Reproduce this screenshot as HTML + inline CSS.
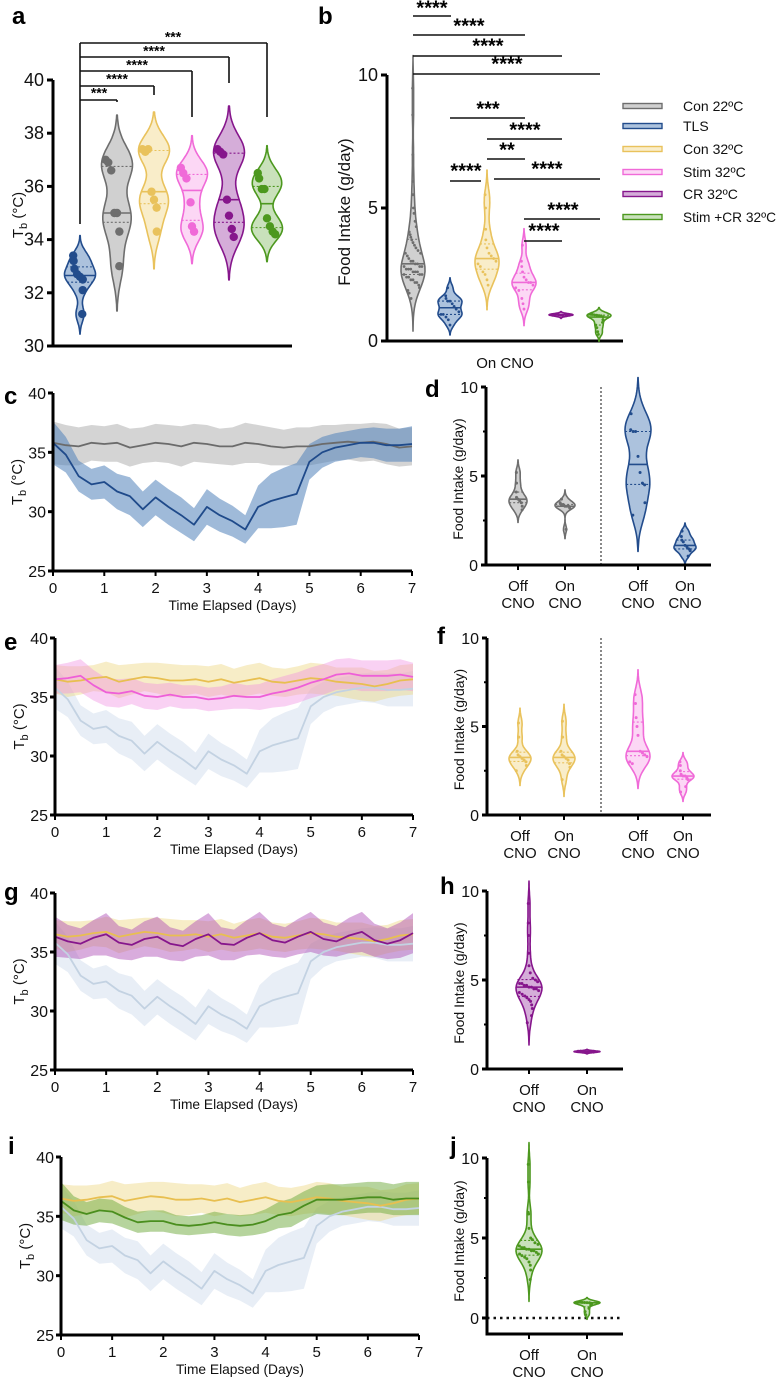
<!DOCTYPE html>
<html><head><meta charset="utf-8"><style>
html,body{margin:0;padding:0;background:#fff}
svg{display:block;font-family:"Liberation Sans",sans-serif}
</style></head><body>
<svg id="fig" width="777" height="1379" viewBox="0 0 777 1379" xmlns="http://www.w3.org/2000/svg"></svg>
<script>
// ---------- DATA ----------
const timeDays=[0,0.25,0.5,0.75,1,1.25,1.5,1.75,2,2.25,2.5,2.75,3,3.25,3.5,3.75,4,4.25,4.5,4.75,5,5.25,5.5,5.75,6,6.25,6.5,6.75,7];
const tlsMean=[35.8,34.8,33.0,32.3,32.5,31.7,31.3,30.2,31.2,30.4,29.7,28.9,30.4,29.7,29.2,28.5,30.4,30.9,31.2,31.5,34.2,35.0,35.4,35.6,35.8,35.8,35.6,35.6,35.7];
const tlsSd=[1.8,1.5,1.3,1.3,1.4,1.5,1.6,1.5,1.5,1.5,1.5,1.4,1.5,1.4,1.3,1.2,1.8,2.3,2.5,2.6,1.5,1.3,1.2,1.2,1.2,1.3,1.4,1.4,1.5];
const con22Mean=[35.8,35.6,35.5,35.8,35.7,35.8,35.4,35.6,35.8,35.7,35.5,35.8,35.7,35.5,35.5,35.8,35.7,35.5,35.4,35.5,35.5,35.7,35.8,35.9,35.8,35.9,35.7,35.4,35.5];
const con22Sd=[1.8,1.7,1.6,1.5,1.5,1.6,1.6,1.5,1.6,1.6,1.7,1.6,1.6,1.5,1.6,1.7,1.6,1.6,1.5,1.6,1.6,1.6,1.5,1.5,1.6,1.6,1.7,1.6,1.6];
const con32Mean=[36.5,36.3,36.4,36.6,36.7,36.3,36.5,36.7,36.6,36.4,36.4,36.5,36.3,36.5,36.2,36.4,36.6,36.3,36.2,36.4,36.6,36.5,36.3,36.2,36.1,35.9,36.1,36.4,36.5];
const con32Sd=[1.2,1.3,1.2,1.1,1.3,1.4,1.3,1.2,1.3,1.4,1.3,1.2,1.3,1.3,1.2,1.3,1.3,1.2,1.2,1.2,1.3,1.3,1.2,1.3,1.4,1.3,1.2,1.3,1.3];
const stim32Mean=[36.5,36.6,36.8,36.0,35.4,35.3,35.5,35.1,35.0,35.2,35.0,35.0,34.8,34.9,35.1,35.0,35.0,35.3,35.5,35.8,36.2,36.5,36.9,37.0,36.8,36.8,36.8,36.9,36.7];
const stim32Sd=[1.2,1.3,1.4,1.3,1.2,1.2,1.1,1.1,1.1,1.0,1.0,1.0,1.0,1.0,1.1,1.0,1.1,1.2,1.3,1.3,1.3,1.3,1.3,1.3,1.3,1.3,1.3,1.3,1.2];
const cr32Mean=[36.3,35.9,35.7,36.2,36.5,35.8,35.6,36.1,36.3,35.7,35.5,36.1,36.5,35.7,35.6,36.2,36.6,36.0,35.8,36.3,36.7,36.1,35.9,36.4,36.7,36.0,35.7,36.0,36.6];
const cr32Sd=[1.7,1.4,1.3,1.5,1.8,1.4,1.3,1.5,1.7,1.4,1.3,1.5,1.8,1.4,1.3,1.5,1.8,1.4,1.3,1.5,1.7,1.4,1.3,1.5,1.7,1.4,1.3,1.5,1.7];
const stimCrMean=[36.3,35.5,35.2,35.5,35.4,34.9,34.5,34.6,34.6,34.3,34.2,34.3,34.5,34.3,34.2,34.3,34.6,35.1,35.3,35.9,36.4,36.4,36.4,36.5,36.6,36.6,36.4,36.5,36.5];
const stimCrSd=[1.6,1.2,1.0,1.0,1.0,0.9,0.9,0.9,0.9,0.8,0.8,0.8,0.9,0.9,0.9,0.9,1.0,1.1,1.2,1.2,1.2,1.3,1.3,1.3,1.3,1.3,1.3,1.4,1.4];
const xTicks=[0,1,2,3,4,5,6,7];
const tbTicks=[25,30,35,40];

// panel a body temperature points
const aGroups=["TLS","Con 22ºC","Con 32ºC","Stim 32ºC","CR 32ºC","Stim +CR 32ºC"];
const aTLS=[33.4,33.2,32.9,32.7,32.6,32.5,32.1,31.2];
const aCon22=[37.0,36.9,36.6,35.0,35.0,34.3,33.0];
const aCon32=[37.4,37.3,37.4,35.8,35.5,35.2,34.3];
const aStim32=[36.7,36.5,36.3,35.4,34.5,34.3];
const aCR32=[37.4,37.3,37.2,35.5,34.9,34.4,34.1];
const aStimCR=[36.5,36.3,35.9,35.9,34.8,34.5,34.3,34.2];
const aTicks=[30,32,34,36,38,40];

// panel b food intake on CNO
const bCon22=[9.5,8.5,7.0,6.0,5.5,5.0,4.8,4.5,4.3,4.1,4.0,3.9,3.8,3.7,3.6,3.5,3.4,3.3,3.3,3.2,3.1,3.0,3.0,2.9,2.9,2.8,2.8,2.8,2.7,2.7,2.7,2.6,2.6,2.6,2.5,2.5,2.5,2.4,2.4,2.3,2.3,2.2,2.2,2.1,2.0,1.9,1.8,1.6];
const bTLS=[2.0,1.7,1.6,1.5,1.5,1.4,1.3,1.2,1.1,1.0,1.0,0.9,0.8,0.6];
const bCon32=[5.5,5.0,4.2,3.8,3.5,3.3,3.2,3.1,3.0,2.9,2.8,2.6,2.5,2.3,2.1];
const bStim32=[3.6,3.0,2.8,2.6,2.4,2.3,2.2,2.2,2.1,2.0,1.9,1.6,1.4,1.2];
const bCR32=[1.0,1.0,1.0,0.98,0.97,0.96,1.0,0.95];
const bStimCR=[1.0,1.0,0.98,0.97,0.96,0.95,0.9,0.8,0.7,0.6,0.5,0.35,0.25];
const foodTicks=[0,5,10];

// panels d,f,h,j off vs on CNO
const dCon22Off=[5.2,4.6,4.1,3.8,3.7,3.6,3.5,3.3,3.1];
const dCon22On=[3.7,3.5,3.4,3.4,3.3,3.3,3.3,3.2,2.0];
const dTLSOff=[8.5,7.6,7.5,7.5,6.1,5.2,4.6,4.5,3.5,2.8];
const dTLSOn=[1.9,1.6,1.4,1.3,1.1,1.0,0.9,0.8,0.5];
const fCon32Off=[5.2,4.4,3.6,3.4,3.3,3.2,3.1,3.0,2.8,2.5];
const fCon32On=[5.3,4.4,3.6,3.4,3.3,3.2,3.1,2.9,2.7,2.0];
const fStim32Off=[6.8,6.3,5.5,5.0,4.5,3.6,3.5,3.4,3.3,3.0,2.9];
const fStim32On=[3.0,2.8,2.5,2.3,2.2,2.2,2.1,2.0,1.6,1.3];
const hCR32Off=[9.3,8.2,7.5,6.5,5.8,5.4,5.1,5.0,4.9,4.8,4.8,4.7,4.7,4.6,4.6,4.5,4.5,4.4,4.3,4.2,4.1,4.0,3.9,3.8,3.6,3.4,3.0,2.6];
const hCR32On=[1.0,1.0,0.98,0.97,0.96,0.95,1.0,0.95];
const jStimCROff=[9.6,8.5,6.6,6.5,5.6,5.0,4.9,4.7,4.6,4.5,4.4,4.4,4.3,4.3,4.2,4.2,4.1,4.0,4.0,3.9,3.8,3.7,3.5,3.3,3.0,2.4];
const jStimCROn=[1.0,1.0,0.98,0.97,0.96,0.95,0.9,0.8,0.6,0.4,0.2];

// ---------- helpers ----------
const NS="http://www.w3.org/2000/svg";
const svg=document.getElementById('fig');
function mk(tag,attrs,parent){const e=document.createElementNS(NS,tag);for(const k in attrs)e.setAttribute(k,attrs[k]);(parent||svg).appendChild(e);return e;}
function txt(x,y,s,opt,parent){const e=mk('text',Object.assign({x:x,y:y,'font-size':14,fill:'#111'},opt||{}),parent);e.textContent=s;return e;}
function lin(d0,d1,r0,r1){return v=>r0+(v-d0)/(d1-d0)*(r1-r0);}
const COL={gray:'#6e6e6e',blue:'#224c8c',yellow:'#e9c25c',pink:'#f06ad8',purple:'#86168c',green:'#4c981e'};
const FILL={gray:'rgba(150,150,150,0.45)',blue:'rgba(70,120,180,0.45)',yellow:'rgba(240,210,120,0.4)',pink:'rgba(245,140,225,0.35)',purple:'rgba(150,50,160,0.4)',green:'rgba(100,170,60,0.35)'};

function violin(g,cx,ys,data,color,fill,maxHW,ptR){
  const n=data.length;const mean=data.reduce((a,b)=>a+b,0)/n;
  const sd=Math.sqrt(data.reduce((a,b)=>a+(b-mean)*(b-mean),0)/Math.max(1,n-1));
  let bw=0.6*1.06*sd*Math.pow(n,-0.2);if(bw<0.04)bw=0.04;
  const mn=Math.min(...data),mx=Math.max(...data);
  const lo=mn-2.6*bw,hi=mx+2.6*bw;const N=60;const pts=[];let dmax=0;
  for(let i=0;i<=N;i++){const v=lo+(hi-lo)*i/N;let d=0;for(const x of data){const z=(v-x)/bw;d+=Math.exp(-0.5*z*z);}pts.push([v,d]);if(d>dmax)dmax=d;}
  const hw=v=>{let best=0;for(const p of pts){if(Math.abs(p[0]-v)<=(hi-lo)/N)best=Math.max(best,p[1]);}return best/dmax*maxHW;};
  let dstr='';pts.forEach((p,i)=>{dstr+=(i?'L':'M')+(cx+p[1]/dmax*maxHW).toFixed(1)+','+ys(p[0]).toFixed(1);});
  for(let i=pts.length-1;i>=0;i--){const p=pts[i];dstr+='L'+(cx-p[1]/dmax*maxHW).toFixed(1)+','+ys(p[0]).toFixed(1);}
  const body=mk('path',{d:dstr+'Z',fill:fill,stroke:color,'stroke-width':1.6,'stroke-linejoin':'round'},g);
  
  
  const s=[...data].sort((a,b)=>a-b);const q=p=>{const idx=(n-1)*p;const l=Math.floor(idx),h=Math.ceil(idx);return s[l]+(s[h]-s[l])*(idx-l);};
  [[0.5,'none'],[0.25,'2,2'],[0.75,'2,2']].forEach(([p,da])=>{const v=q(p);const w=hw(v);const l=mk('line',{x1:cx-w,x2:cx+w,y1:ys(v),y2:ys(v),stroke:color,'stroke-width':p==0.5?1.6:1.1,'stroke-dasharray':da},g);
    
    });
  data.forEach((v,i)=>{const w=hw(v);const off=(((i*37)%9)-4)/4*w*0.75;const c=mk('circle',{cx:cx+off,cy:ys(v),r:ptR,fill:color},g);
    
    });
}

function stars(x,y,s,fs,g){const t=txt(x,y+fs*0.62,s,{'font-size':fs,'font-weight':'bold','text-anchor':'middle',fill:'#000'},g);return t;}
function hline(x1,x2,y,g,w){const l=mk('line',{x1:x1,x2:x2,y1:y,y2:y,stroke:'#111','stroke-width':w||1.6},g);return l;}
function letter(x,y,s){const t=txt(x,y,s,{'font-size':24,'font-weight':'bold',fill:'#000'});}
function ytitleTb(x,cy,g){const t=mk('text',{transform:`translate(${x},${cy}) rotate(-90)`,'text-anchor':'middle','font-size':15,fill:'#111'},g);t.innerHTML='T<tspan font-size="11" dy="4">b</tspan><tspan dy="-4"> (°C)</tspan>';}
function ytitleFood(x,cy,g,fs){const t=mk('text',{transform:`translate(${x},${cy}) rotate(-90)`,'text-anchor':'middle','font-size':fs||14,fill:'#111'},g);t.textContent='Food Intake (g/day)';}

// ---------- panel a ----------
(function(){
  const g=mk('g',{});
  const ys=lin(30,40,346,80);const cats=[80,117,154,192,229,267];
  mk('line',{x1:53,x2:53,y1:80,y2:347.5,stroke:'#000','stroke-width':3},g);
  mk('line',{x1:51.5,x2:292,y1:346,y2:346,stroke:'#000','stroke-width':3},g);
  aTicks.forEach(v=>{mk('line',{x1:47,x2:53,y1:ys(v),y2:ys(v),stroke:'#000','stroke-width':3},g);txt(44,ys(v)+6,String(v),{'font-size':18,'text-anchor':'end'},g);});
  ytitleTb(23,215,g);
  const sets=[[aTLS,'blue'],[aCon22,'gray'],[aCon32,'yellow'],[aStim32,'pink'],[aCR32,'purple'],[aStimCR,'green']];
  sets.forEach((s,i)=>violin(g,cats[i],ys,s[0],COL[s[1]],FILL[s[1]],15.5,4.2));
  mk('line',{x1:80,x2:80,y1:43,y2:224,stroke:'#111','stroke-width':1.6},g);
  const br=[[100,117,102,'***',99,92],[86,154,95,'****',117,78],[71,192,117,'****',137,64],[57,229,83,'****',154,50],[43,267,117,'***',173,36]];
  br.forEach(b=>{hline(80,b[1],b[0],g);mk('line',{x1:b[1],x2:b[1],y1:b[0],y2:b[2],stroke:'#111','stroke-width':1.6},g);stars(b[4],b[5]-3,b[3],14,g);});
})();
letter(12,24,'a');letter(318,24,'b');

// ---------- panel b ----------
(function(){
  const g=mk('g',{});
  const ys=lin(0,10,341,75);const cats=[413,450,487,524,561,599];
  mk('line',{x1:387,x2:387,y1:75,y2:342,stroke:'#000','stroke-width':3},g);
  mk('line',{x1:385.5,x2:623,y1:341,y2:341,stroke:'#000','stroke-width':3},g);
  foodTicks.forEach(v=>{mk('line',{x1:381,x2:387,y1:ys(v),y2:ys(v),stroke:'#000','stroke-width':3},g);txt(378,ys(v)+6,String(v),{'font-size':18,'text-anchor':'end'},g);});
  ytitleFood(350,212,g,17);
  const sets=[[bCon22,'gray',12],[bTLS,'blue',12],[bCon32,'yellow',12],[bStim32,'pink',12],[bCR32,'purple',12],[bStimCR,'green',12]];
  sets.forEach((s,i)=>violin(g,cats[i],ys,s[0],COL[s[1]],FILL[s[1]],s[2],1.4));
  const xl=txt(505,368,'On CNO',{'font-size':15,'text-anchor':'middle'},g);
  const br=[[16,413,451,'****',432,7],[35,413,525,'****',469,25],[56,413,562,'****',488,45],[74,413,600,'****',507,63],
    [118,450,525,'***',488,108],[139,487,562,'****',525,129],[159,487,525,'**',507,149],[181,450,481,'****',466,170],[179,494,600,'****',547,168],
    [219,524,600,'****',563,209],[241,524,562,'****',544,230]];
  br.forEach(b=>{hline(b[1],b[2],b[0],g);stars(b[4],b[5]-5,b[3],20,g);});
  const leg=[['Con 22ºC','gray'],['TLS','blue'],['Con 32ºC','yellow'],['Stim 32ºC','pink'],['CR 32ºC','purple'],['Stim +CR 32ºC','green']];
  const ly=[106,126,149,172,194,217];
  leg.forEach((l,i)=>{const e=mk('g',{},g);
    mk('rect',{x:623,y:ly[i]-2.5,width:39,height:5,fill:FILL[l[1]],stroke:COL[l[1]],'stroke-width':1.4},e);
    const t=txt(683,ly[i]+5,l[0],{'font-size':14},e);
    if(l[0].length>10){t.setAttribute('textLength',93);t.setAttribute('lengthAdjust','spacingAndGlyphs');}});
})();

// ---------- time series panels ----------
function tsPanel(name,x0,x1,yb,yt,series,lbl,lx,ly){
  const g=mk('g',{});
  const xs=lin(0,7,x0,x1),ys=lin(25,40,yb,yt);
  series.forEach(s=>{
    let d='';timeDays.forEach((t,i)=>{d+=(i?'L':'M')+xs(t).toFixed(1)+','+ys(s.m[i]+s.sd[i]).toFixed(1);});
    for(let i=timeDays.length-1;i>=0;i--)d+='L'+xs(timeDays[i]).toFixed(1)+','+ys(s.m[i]-s.sd[i]).toFixed(1);
    const b=mk('path',{d:d+'Z',fill:s.band,stroke:'none'},g);
    
    
  });
  series.forEach(s=>{
    const p=mk('polyline',{points:timeDays.map((t,i)=>xs(t).toFixed(1)+','+ys(s.m[i]).toFixed(1)).join(' '),fill:'none',stroke:s.line,'stroke-width':1.8,'stroke-linejoin':'round'},g);
    
    
  });
  mk('line',{x1:x0,x2:x0,y1:yt,y2:yb+1.5,stroke:'#000','stroke-width':3},g);
  mk('line',{x1:x0-1.5,x2:x1,y1:yb,y2:yb,stroke:'#000','stroke-width':3},g);
  tbTicks.forEach(v=>{mk('line',{x1:x0-5,x2:x0,y1:ys(v),y2:ys(v),stroke:'#000','stroke-width':3},g);txt(x0-7,ys(v)+6,String(v),{'font-size':16,'text-anchor':'end'},g);});
  xTicks.forEach(v=>{mk('line',{x1:xs(v),x2:xs(v),y1:yb,y2:yb+5,stroke:'#000','stroke-width':2},g);txt(xs(v),yb+22,String(v),{'font-size':15,'text-anchor':'middle'},g);});
  const t=txt((x0+x1)/2,yb+39,'Time Elapsed (Days)',{'font-size':14,'text-anchor':'middle',textLength:128,lengthAdjust:'spacingAndGlyphs'},g);
  
  ytitleTb(x0-31,(yb+yt)/2,g);
  letter(lx,ly,lbl);
}
const fadedTLS={name:'tls-reference',m:tlsMean,sd:tlsSd,band:'rgba(205,218,236,0.45)',line:'#c3d2e2'};
tsPanel('panel-c-tb-timecourse',53,412,571,393,[
  {name:'con22',m:con22Mean,sd:con22Sd,band:'rgba(170,170,170,0.5)',line:'#6b6b6b'},
  {name:'tls',m:tlsMean,sd:tlsSd,band:'rgba(80,130,185,0.55)',line:'#1f4a8a'}],'c',4,404);
tsPanel('panel-e-tb-timecourse',55,413,815,638,[fadedTLS,
  {name:'con32',m:con32Mean,sd:con32Sd,band:'rgba(238,215,130,0.45)',line:'#e8bf50'},
  {name:'stim32',m:stim32Mean,sd:stim32Sd,band:'rgba(240,140,225,0.4)',line:'#ee5fd8'}],'e',4,650);
tsPanel('panel-g-tb-timecourse',55,413,1070,893,[fadedTLS,
  {name:'con32',m:con32Mean,sd:con32Sd,band:'rgba(238,215,130,0.45)',line:'#e8bf50'},
  {name:'cr32',m:cr32Mean,sd:cr32Sd,band:'rgba(170,70,180,0.45)',line:'#86168c'}],'g',4,900);
tsPanel('panel-i-tb-timecourse',61,419,1335,1157,[fadedTLS,
  {name:'con32',m:con32Mean,sd:con32Sd,band:'rgba(238,215,130,0.45)',line:'#e8bf50'},
  {name:'stimcr32',m:stimCrMean,sd:stimCrSd,band:'rgba(110,170,60,0.5)',line:'#4a8e1e'}],'i',8,1154);

// ---------- off/on CNO panels ----------
function foodPanel(name,ax,axEnd,y0,y10,yBot,cats,sets,lbl,lx,ly,sep,zeroDots){
  const g=mk('g',{});
  const ys=lin(0,10,y0,y10);
  if(zeroDots){const z=mk('line',{x1:ax,x2:axEnd,y1:y0,y2:y0,stroke:'#111','stroke-width':2.5,'stroke-dasharray':'2.5,4'},g);}
  if(sep){const s=mk('line',{x1:sep,x2:sep,y1:y10,y2:yBot,stroke:'#111','stroke-width':1,'stroke-dasharray':'2,2'},g);}
  sets.forEach((s,i)=>violin(g,cats[i],ys,s[0],COL[s[1]],FILL[s[1]],s[2],1.5));
  mk('line',{x1:ax,x2:ax,y1:y10,y2:yBot+1.5,stroke:'#000','stroke-width':3},g);
  mk('line',{x1:ax-1.5,x2:axEnd,y1:yBot,y2:yBot,stroke:'#000','stroke-width':3},g);
  foodTicks.forEach(v=>{mk('line',{x1:ax-5,x2:ax,y1:ys(v),y2:ys(v),stroke:'#000','stroke-width':3},g);txt(ax-8,ys(v)+6,String(v),{'font-size':16,'text-anchor':'end'},g);});
  [2.5,7.5].forEach(v=>mk('line',{x1:ax-3,x2:ax,y1:ys(v),y2:ys(v),stroke:'#000','stroke-width':2},g));
  cats.forEach((c,i)=>{mk('line',{x1:c,x2:c,y1:yBot,y2:yBot+5,stroke:'#000','stroke-width':2},g);
    txt(c,yBot+26,i%2?'On':'Off',{'font-size':15,'text-anchor':'middle'},g);txt(c,yBot+43,'CNO',{'font-size':15,'text-anchor':'middle'},g);});
  ytitleFood(ax-23,(y0+y10)/2+3,g,14);
  letter(lx,ly,lbl);
}
foodPanel('panel-d-food-offon',486,711,565,387,565,[518,565,638,685],[[dCon22Off,'gray',9],[dCon22On,'gray',10],[dTLSOff,'blue',13],[dTLSOn,'blue',11]],'d',425,397,601,false);
foodPanel('panel-f-food-offon',487,711,815,638,815,[520,564,638,683],[[fCon32Off,'yellow',11],[fCon32On,'yellow',11],[fStim32Off,'pink',12],[fStim32On,'pink',11]],'f',437,644,601,false);
foodPanel('panel-h-food-offon',487,623,1069,891,1069,[529,587],[[hCR32Off,'purple',13],[hCR32On,'purple',13]],'h',440,894,null,false);
foodPanel('panel-j-food-offon',487,623,1318,1158,1334,[529,587],[[jStimCROff,'green',13],[jStimCROn,'green',13]],'j',450,1154,null,true);
</script>
</body></html>
